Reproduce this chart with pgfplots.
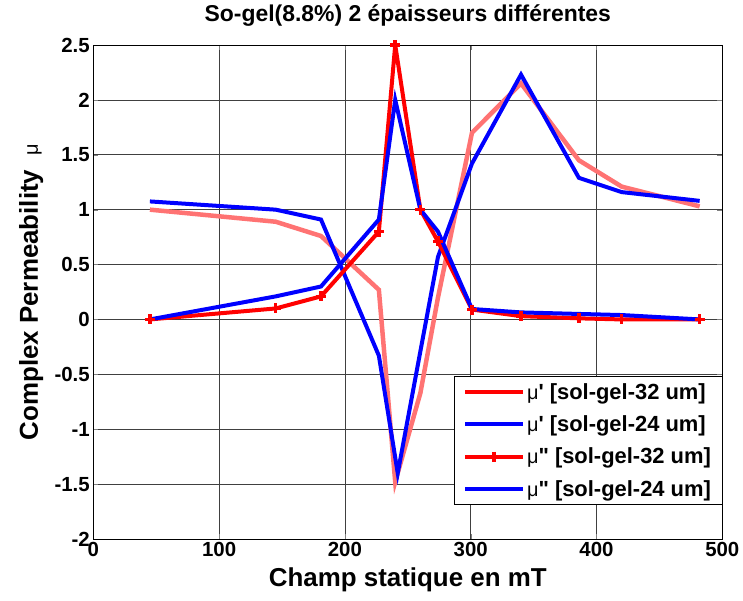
\documentclass[border=0pt]{standalone}
\usepackage{fontspec}
\setmainfont{Liberation Sans}
\usepackage{pgfplots}
\pgfplotsset{compat=1.18}
\newcommand{\mus}{{\normalfont\fontsize{20}{20}\selectfont μ}}
\newcommand{\sq}{\textquotesingle}
\newcommand{\dq}{\textquotedbl}
\begin{document}
\begin{tikzpicture}
\begin{axis}[
  scale only axis,
  width=629bp, height=494bp,
  xmin=0, xmax=500, ymin=-2, ymax=2.5,
  xtick={0,100,...,500},
  ytick={-2,-1.5,-1,-0.5,0,0.5,1,1.5,2,2.5},
  tick align=inside,
  major tick length=5bp,
  grid=major,
  grid style={black!75, line width=0.7bp},
  axis line style={black, line width=0.8bp},
  /pgf/number format/assume math mode=true,
  ticklabel style={font=\fontsize{20.5}{20}\selectfont\bfseries},
  title={\fontsize{23}{23}\selectfont\bfseries So-gel(8.8\%) 2 épaisseurs différentes},
  title style={at={(axis description cs:0.5,1.0466)}, anchor=center},
  xlabel={\fontsize{26}{26}\selectfont\bfseries Champ statique en mT},
  xlabel style={at={(axis description cs:0.5,-0.083)}, anchor=center},
  ylabel={\fontsize{26}{26}\selectfont\bfseries Complex Permeability~~\mus},
  ylabel style={at={(axis description cs:-0.0986,0.5)}, anchor=center},
  legend style={at={(1,0.0688)}, anchor=south east, draw=black, fill=white,
    line width=0.8bp, font=\fontsize{22}{26}\selectfont\bfseries,
    cells={anchor=west}, row sep=11bp, inner xsep=9bp, inner ysep=5bp},
  legend image code/.code={\draw[mark repeat=2,mark phase=2,#1] plot coordinates {(0bp,0bp) (29bp,0bp) (58bp,0bp)};},
]
\addplot[red!55, line width=4.5bp, legend image code/.code={\draw[red,line width=4bp] (0bp,0bp) -- (58bp,0bp);}] coordinates {
(45,1.0) (145,0.89) (181,0.76) (227,0.27) (240,-1.48) (260,-0.67) (274,0.2) (301,1.70) (340,2.15) (386,1.45) (420,1.21) (482,1.03)};
\addlegendentry{\mus\sq{} [sol-gel-32 um]}
\addplot[blue, line width=4bp] coordinates {
(45,1.075) (145,1.0) (181,0.91) (227,-0.33) (242,-1.40) (260,-0.29) (274,0.57) (301,1.42) (340,2.23) (386,1.29) (420,1.16) (482,1.08)};
\addlegendentry{\mus\sq{} [sol-gel-24 um]}
\addplot[red, line width=4bp, mark=+, mark size=5bp, mark options={line width=3.5bp}] coordinates {
(45,0) (145,0.10) (181,0.21) (227,0.80) (240,2.5) (260,1.0) (274,0.71) (301,0.09) (340,0.03) (386,0.01) (420,0.0) (482,0.0)};
\addlegendentry{\mus\dq{} [sol-gel-32 um]}
\addplot[blue, line width=4bp] coordinates {
(45,0) (145,0.21) (181,0.30) (227,0.91) (240,2.0) (260,1.0) (274,0.80) (301,0.095) (340,0.064) (386,0.05) (420,0.04) (482,0.0)};
\addlegendentry{\mus\dq{} [sol-gel-24 um]}
\end{axis}
\path (current axis.south west) ++(-93.3bp,-62bp) coordinate (bbA);
\path (current axis.north east) ++(20.7bp,45bp) coordinate (bbB);
\pgfresetboundingbox
\path[use as bounding box] (bbA) rectangle (bbB);
\end{tikzpicture}
\end{document}
